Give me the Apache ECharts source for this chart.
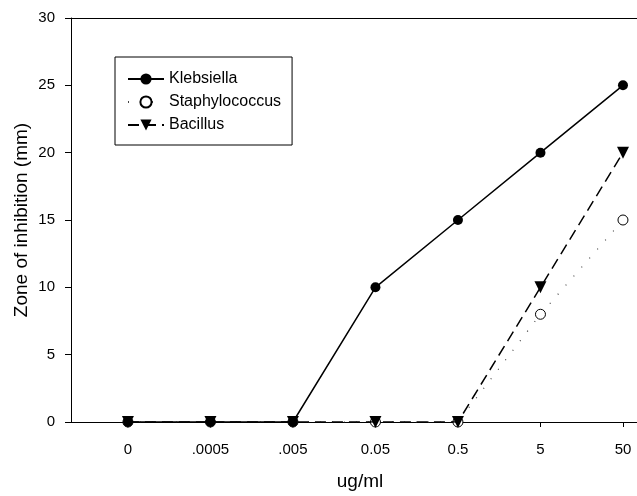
<!DOCTYPE html>
<html>
<head>
<meta charset="utf-8">
<script src="https://cdn.jsdelivr.net/npm/echarts@6/dist/echarts.min.js"></script>
<style>
  html, body { margin: 0; padding: 0; background: #fff; }
  #chart { width: 637px; height: 496px; }
</style>
</head>
<body>
<div id="chart"></div>
<script>
// concentrations (ug/ml), evenly spaced categories
var doseLabels = ['0', '.0005', '.005', '0.05', '0.5', '5', '50']
var klebsiella = [0, 0, 0, 10, 15, 20, 25]
var staphylococcus = [0, 0, 0, 0, 0, 8, 15]
var bacillus = [0, 0, 0, 0, 0, 10, 20]
var yTicks = [0, 5, 10, 15, 20, 25, 30]

var font = "'Liberation Sans', Arial, sans-serif"

function pairs(arr) {
    return arr.map(function (v, i) { return [i, v] })
}

var chart = echarts.init(document.getElementById('chart'))
chart.setOption({
    animation: false,
    backgroundColor: '#fff',
    textStyle: { fontFamily: font, color: '#000' },
    grid: {
        left: 71,
        right: 0,
        top: 18,
        bottom: 69
    },
    legend: {
        orient: 'vertical',
        left: 115,
        top: 57,
        padding: [14, 11, 12, 12],
        itemGap: 7,
        itemWidth: 36,
        itemHeight: 14,
        borderColor: '#000',
        borderWidth: 1,
        backgroundColor: '#fff',
        textStyle: { fontFamily: font, fontSize: 16, color: '#000' },
        data: ['Klebsiella', 'Staphylococcus', 'Bacillus']
    },
    xAxis: [
        {
            type: 'value',
            min: -0.69,
            max: 6.17,
            name: 'ug/ml',
            nameLocation: 'middle',
            nameGap: 50,
            nameMoveOverlap: false,
            nameTextStyle: { fontFamily: font, fontSize: 19, color: '#000', padding: [0, 0, 0, 12] },
            axisLine: { show: true, onZero: false, lineStyle: { color: '#000', width: 1 } },
            axisTick: { show: true, length: 5, customValues: [0, 1, 2, 3, 4, 5, 6], lineStyle: { color: '#000' } },
            axisLabel: {
                margin: 20,
                fontSize: 15,
                color: '#000',
                customValues: [0, 1, 2, 3, 4, 5, 6],
                formatter: function (v) { return doseLabels[Math.round(v)] }
            },
            splitLine: { show: false }
        },
        {
            type: 'value',
            position: 'top',
            min: -0.69,
            max: 6.17,
            axisLine: { show: true, onZero: false, lineStyle: { color: '#000', width: 1 } },
            axisTick: { show: false },
            axisLabel: { show: false },
            splitLine: { show: false }
        }
    ],
    yAxis: {
        type: 'value',
        position: 'left',
        min: yTicks[0],
        max: yTicks[yTicks.length - 1],
        interval: 5,
        name: 'Zone of inhibition (mm)',
        nameLocation: 'middle',
        nameGap: 40,
        nameMoveOverlap: false,
        nameTextStyle: { fontFamily: font, fontSize: 19, color: '#000' },
        axisLine: { show: true, onZero: false, lineStyle: { color: '#000', width: 1 } },
        axisTick: { show: true, length: 6, lineStyle: { color: '#000' } },
        axisLabel: { margin: 16, fontSize: 15, color: '#000' },
        splitLine: { show: false }
    },
    series: [
        {
            name: 'Klebsiella',
            type: 'line',
            data: pairs(klebsiella),
            symbol: 'circle',
            symbolSize: 10,
            itemStyle: { color: '#000' },
            lineStyle: { color: '#000', width: 1.5 },
            z: 4
        },
        {
            name: 'Staphylococcus',
            type: 'line',
            data: pairs(staphylococcus),
            symbol: 'circle',
            symbolSize: 10,
            itemStyle: { color: '#fff', borderColor: '#000', borderWidth: 1 },
            lineStyle: { color: '#444', width: 1.2, type: [1, 11] },
            z: 2
        },
        {
            name: 'Bacillus',
            type: 'line',
            data: pairs(bacillus),
            symbol: 'triangle',
            symbolRotate: 180,
            symbolSize: 12,
            itemStyle: { color: '#000' },
            lineStyle: { color: '#000', width: 1.5, type: [11, 6] },
            z: 3
        }
    ]
})
</script>
</body>
</html>
